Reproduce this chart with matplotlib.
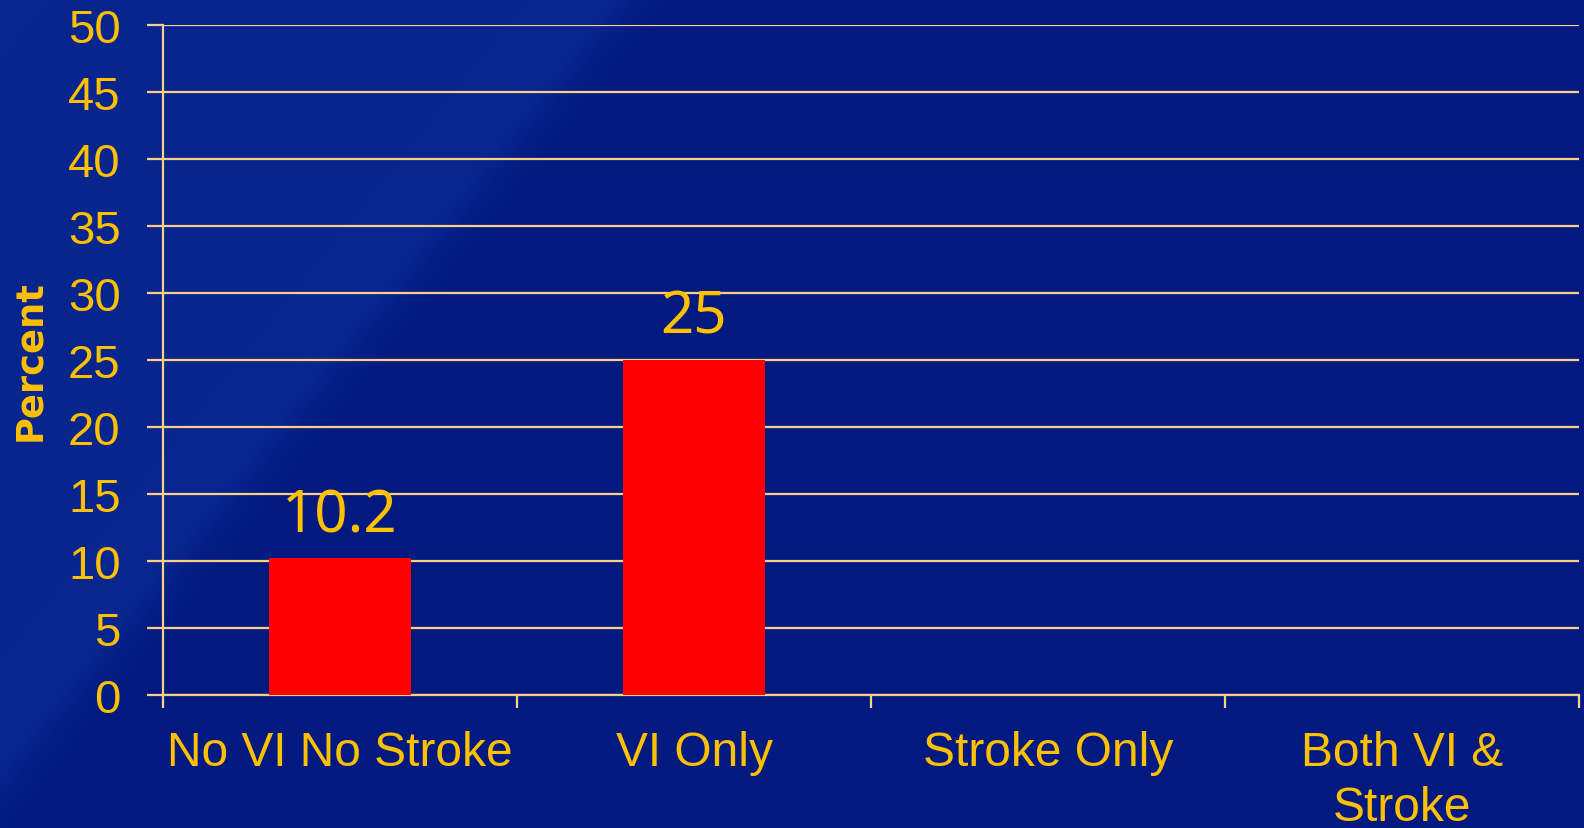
import numpy as np
import matplotlib.pyplot as plt

categories = ["No VI No Stroke", "VI Only", "Stroke Only", "Both VI &\nStroke"]
values = [10.2, 25, None, None]
y_ticks = [0, 5, 10, 15, 20, 25, 30, 35, 40, 45, 50]

yellow = '#FFC000'
grid_col = '#FFCF85'
bar_col = '#FF0000'

W, H = 1584, 829
fig = plt.figure(figsize=(W / 100, H / 100), dpi=100)

# background: dark blue with a slightly lighter diagonal region on the left
yy, xx = np.mgrid[0:H, 0:W]
d = (xx - 630 * (1 - yy / 790.0)) / 25.0   # < 0 left of the streak
base = np.array([2, 26, 128]) / 255.0
light = np.array([9, 38, 142]) / 255.0
t = 1 / (1 + np.exp(d * 1.5))
img = base[None, None, :] * (1 - t[..., None]) + light[None, None, :] * t[..., None]
glow = np.exp(-((d + 1.0) ** 2) * 0.5) * 0.015
img = np.clip(img + glow[..., None] * np.array([0.4, 0.5, 1.0]), 0, 1)
bg = fig.add_axes([0, 0, 1, 1], zorder=0)
bg.imshow(img, aspect='auto', extent=[0, 1, 0, 1], interpolation='bilinear')
bg.axis('off')

ax = fig.add_axes([163 / W, 1 - 696 / H, (1579 - 163) / W, (696 - 26) / H], zorder=1)
ax.set_facecolor('none')

x = np.arange(len(categories))
bar_vals = [v if v is not None else 0 for v in values]
ax.bar(x, bar_vals, width=0.4, color=bar_col, zorder=3)

for xi, v in zip(x, values):
    if v is None:
        continue
    ax.annotate(f"{v:g}", (xi, v), xytext=(0, 19.5), textcoords='offset points',
                ha='center', va='baseline', color=yellow, fontsize=42,
                family='Noto Sans')

ax.set_xlim(-0.5, len(categories) - 0.5)
ax.set_ylim(0, 50)
ax.set_yticks(y_ticks)
ax.set_yticklabels([str(v) for v in y_ticks], family='Liberation Sans',
                   fontsize=34, color=yellow)
ax.tick_params(axis='y', length=11.5, width=1.6, color=grid_col, pad=19)

ax.set_xticks(np.arange(len(categories) + 1) - 0.5)
ax.set_xticklabels([])
ax.tick_params(axis='x', which='major', length=9.5, width=1.6, color=grid_col)
ax.set_xticks(x, minor=True)
ax.set_xticklabels(categories, minor=True, family='Liberation Sans',
                   fontsize=34.5, color=yellow, linespacing=1.3)
ax.tick_params(axis='x', which='minor', length=0, pad=25)

ax.grid(axis='y', color=grid_col, linewidth=1.6, zorder=1)
ax.set_axisbelow(True)
for side in ['top', 'right']:
    ax.spines[side].set_visible(False)
for side in ['left', 'bottom']:
    ax.spines[side].set_color(grid_col)
    ax.spines[side].set_linewidth(1.6)

ax.set_ylabel("Percent", family='DejaVu Sans', fontweight='bold', fontsize=26.5,
              color=yellow, labelpad=14)

fig.savefig('out.png', dpi=100)
